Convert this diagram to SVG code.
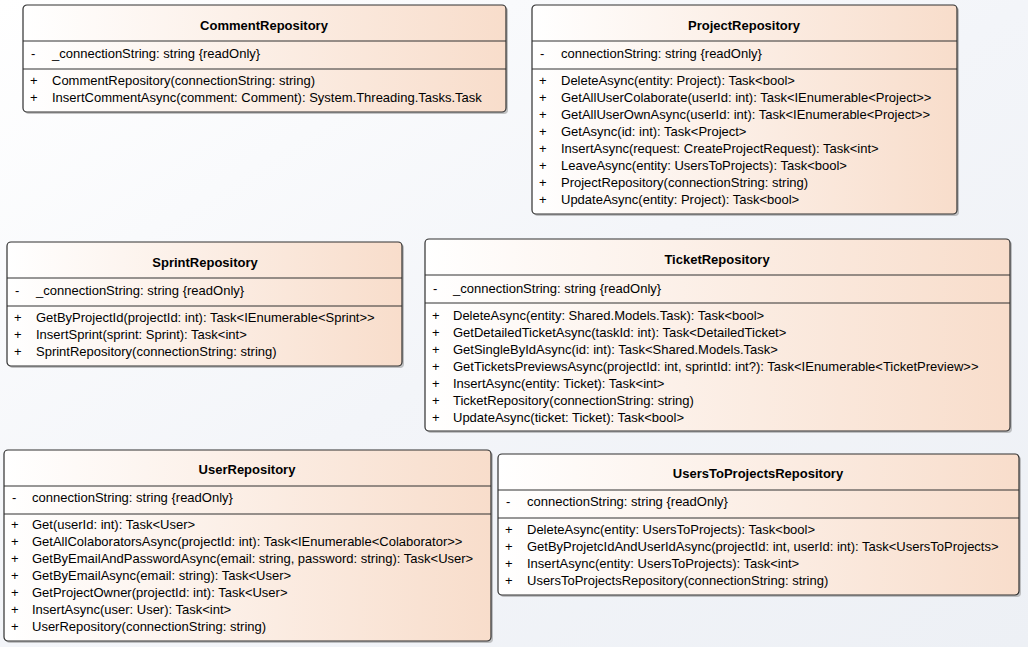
<svg xmlns="http://www.w3.org/2000/svg" width="1028" height="647" viewBox="0 0 1028 647">
<style>
.bx{fill:url(#cg);stroke:#303030;stroke-width:1.2}
.sh{fill:#8c8c8c;opacity:.5}
.sep{stroke:#303030;stroke-width:1}
text{font-family:"Liberation Sans",Arial,sans-serif;font-size:13px;fill:#000}
.t{font-weight:bold;text-anchor:middle}
</style>
<defs>
<linearGradient id="cg" x1="0" y1="0" x2="1" y2="0">
<stop offset="0" stop-color="#FFFFFF"/>
<stop offset="1" stop-color="#F8DDCB"/>
</linearGradient>
<linearGradient id="bg" x1="0" y1="0" x2="1" y2="1">
<stop offset="0" stop-color="#FFFFFF"/>
<stop offset="0.5" stop-color="#F3F5F9"/>
<stop offset="1" stop-color="#EDF0F5"/>
</linearGradient>
</defs>
<rect width="1028" height="647" fill="url(#bg)"/>
<g id="connectors"></g>

<g id="CommentRepository">
<rect class="sh" x="25" y="7" width="483" height="107" rx="4"/>
<rect class="bx" x="23" y="5" width="483" height="107" rx="4"/>
<line class="sep" x1="23" y1="41" x2="506" y2="41"/>
<line class="sep" x1="23" y1="69" x2="506" y2="69"/>
<text class="t" x="264" y="30">CommentRepository</text>
<text x="31" y="58">-</text><text x="52" y="58">_connectionString: string {readOnly}</text>
<text x="30" y="85">+</text><text x="52" y="85">CommentRepository(connectionString: string)</text>
<text x="30" y="102">+</text><text x="52" y="102">InsertCommentAsync(comment: Comment): System.Threading.Tasks.Task</text>
</g>

<g id="ProjectRepository">
<rect class="sh" x="534" y="7" width="425" height="209" rx="4"/>
<rect class="bx" x="532" y="5" width="425" height="209" rx="4"/>
<line class="sep" x1="532" y1="41" x2="957" y2="41"/>
<line class="sep" x1="532" y1="69" x2="957" y2="69"/>
<text class="t" x="744" y="30">ProjectRepository</text>
<text x="540" y="58">-</text><text x="561" y="58">connectionString: string {readOnly}</text>
<text x="539" y="85">+</text><text x="561" y="85">DeleteAsync(entity: Project): Task&lt;bool&gt;</text>
<text x="539" y="102">+</text><text x="561" y="102">GetAllUserColaborate(userId: int): Task&lt;IEnumerable&lt;Project&gt;&gt;</text>
<text x="539" y="119">+</text><text x="561" y="119">GetAllUserOwnAsync(userId: int): Task&lt;IEnumerable&lt;Project&gt;&gt;</text>
<text x="539" y="136">+</text><text x="561" y="136">GetAsync(id: int): Task&lt;Project&gt;</text>
<text x="539" y="153">+</text><text x="561" y="153">InsertAsync(request: CreateProjectRequest): Task&lt;int&gt;</text>
<text x="539" y="170">+</text><text x="561" y="170">LeaveAsync(entity: UsersToProjects): Task&lt;bool&gt;</text>
<text x="539" y="187">+</text><text x="561" y="187">ProjectRepository(connectionString: string)</text>
<text x="539" y="204">+</text><text x="561" y="204">UpdateAsync(entity: Project): Task&lt;bool&gt;</text>
</g>

<g id="SprintRepository">
<rect class="sh" x="9" y="244" width="395" height="124" rx="4"/>
<rect class="bx" x="7" y="242" width="395" height="124" rx="4"/>
<line class="sep" x1="7" y1="278" x2="402" y2="278"/>
<line class="sep" x1="7" y1="306" x2="402" y2="306"/>
<text class="t" x="205" y="267">SprintRepository</text>
<text x="15" y="295">-</text><text x="36" y="295">_connectionString: string {readOnly}</text>
<text x="14" y="322">+</text><text x="36" y="322">GetByProjectId(projectId: int): Task&lt;IEnumerable&lt;Sprint&gt;&gt;</text>
<text x="14" y="339">+</text><text x="36" y="339">InsertSprint(sprint: Sprint): Task&lt;int&gt;</text>
<text x="14" y="356">+</text><text x="36" y="356">SprintRepository(connectionString: string)</text>
</g>

<g id="TicketRepository">
<rect class="sh" x="427" y="241" width="585" height="192" rx="4"/>
<rect class="bx" x="425" y="239" width="585" height="192" rx="4"/>
<line class="sep" x1="425" y1="275" x2="1010" y2="275"/>
<line class="sep" x1="425" y1="303" x2="1010" y2="303"/>
<text class="t" x="717" y="264">TicketRepository</text>
<text x="433" y="293">-</text><text x="453" y="293">_connectionString: string {readOnly}</text>
<text x="432" y="320">+</text><text x="453" y="320">DeleteAsync(entity: Shared.Models.Task): Task&lt;bool&gt;</text>
<text x="432" y="337">+</text><text x="453" y="337">GetDetailedTicketAsync(taskId: int): Task&lt;DetailedTicket&gt;</text>
<text x="432" y="354">+</text><text x="453" y="354">GetSingleByIdAsync(id: int): Task&lt;Shared.Models.Task&gt;</text>
<text x="432" y="371">+</text><text x="453" y="371">GetTicketsPreviewsAsync(projectId: int, sprintId: int?): Task&lt;IEnumerable&lt;TicketPreview&gt;&gt;</text>
<text x="432" y="388">+</text><text x="453" y="388">InsertAsync(entity: Ticket): Task&lt;int&gt;</text>
<text x="432" y="405">+</text><text x="453" y="405">TicketRepository(connectionString: string)</text>
<text x="432" y="422">+</text><text x="453" y="422">UpdateAsync(ticket: Ticket): Task&lt;bool&gt;</text>
</g>

<g id="UserRepository">
<rect class="sh" x="6" y="452" width="487" height="191" rx="4"/>
<rect class="bx" x="4" y="450" width="487" height="191" rx="4"/>
<line class="sep" x1="4" y1="486" x2="491" y2="486"/>
<line class="sep" x1="4" y1="514" x2="491" y2="514"/>
<text class="t" x="247" y="474">UserRepository</text>
<text x="12" y="502">-</text><text x="32" y="502">connectionString: string {readOnly}</text>
<text x="11" y="529">+</text><text x="32" y="529">Get(userId: int): Task&lt;User&gt;</text>
<text x="11" y="546">+</text><text x="32" y="546">GetAllColaboratorsAsync(projectId: int): Task&lt;IEnumerable&lt;Colaborator&gt;&gt;</text>
<text x="11" y="563">+</text><text x="32" y="563">GetByEmailAndPasswordAsync(email: string, password: string): Task&lt;User&gt;</text>
<text x="11" y="580">+</text><text x="32" y="580">GetByEmailAsync(email: string): Task&lt;User&gt;</text>
<text x="11" y="597">+</text><text x="32" y="597">GetProjectOwner(projectId: int): Task&lt;User&gt;</text>
<text x="11" y="614">+</text><text x="32" y="614">InsertAsync(user: User): Task&lt;int&gt;</text>
<text x="11" y="631">+</text><text x="32" y="631">UserRepository(connectionString: string)</text>
</g>

<g id="UsersToProjectsRepository">
<rect class="sh" x="500" y="456" width="521" height="141" rx="4"/>
<rect class="bx" x="498" y="454" width="521" height="141" rx="4"/>
<line class="sep" x1="498" y1="490" x2="1019" y2="490"/>
<line class="sep" x1="498" y1="518" x2="1019" y2="518"/>
<text class="t" x="758" y="478">UsersToProjectsRepository</text>
<text x="506" y="506">-</text><text x="527" y="506">connectionString: string {readOnly}</text>
<text x="505" y="534">+</text><text x="527" y="534">DeleteAsync(entity: UsersToProjects): Task&lt;bool&gt;</text>
<text x="505" y="551">+</text><text x="527" y="551">GetByProjetcIdAndUserIdAsync(projectId: int, userId: int): Task&lt;UsersToProjects&gt;</text>
<text x="505" y="568">+</text><text x="527" y="568">InsertAsync(entity: UsersToProjects): Task&lt;int&gt;</text>
<text x="505" y="585">+</text><text x="527" y="585">UsersToProjectsRepository(connectionString: string)</text>
</g>
</svg>
